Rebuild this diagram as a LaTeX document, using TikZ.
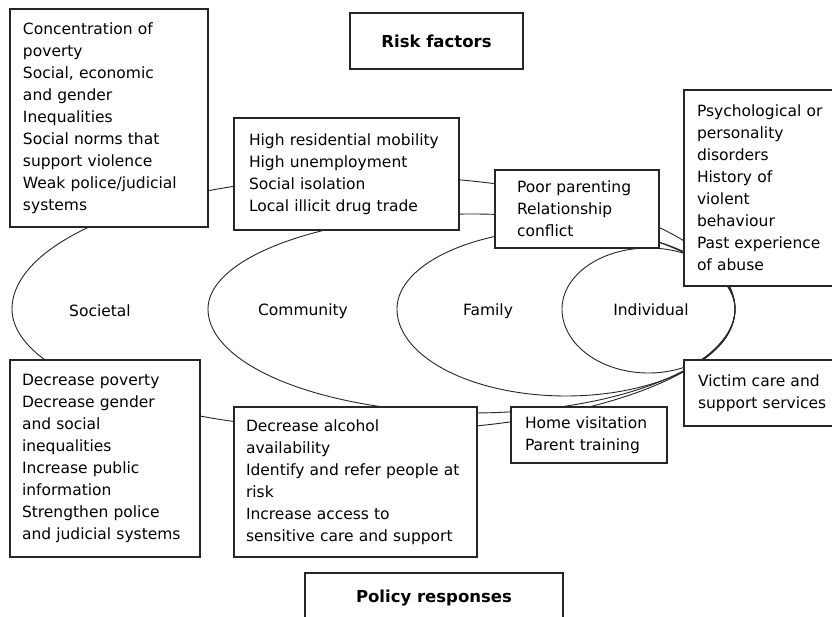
\documentclass[tikz,border=0pt]{standalone}
\usepackage{fontspec}
\setmainfont{DejaVu Sans}
\begin{document}
\begin{tikzpicture}[x=1pt,y=-1pt,
  ell/.style={draw=black!85,line width=0.9pt},
  rbox/.style={draw=black!85,line width=1.2pt,fill=white,rectangle,align=left,
     inner ysep=0pt,font=\fontsize{15.5}{22}\selectfont},
  tbox/.style={draw=black!85,line width=1.2pt,fill=white,rectangle,align=center,
     font=\fontsize{16.5}{22}\selectfont\bfseries},
  lbl/.style={font=\fontsize{15.5}{22}\selectfont}]
\useasboundingbox (0,0) rectangle (832,617);
\clip (0,0) rectangle (832,617);
\fill[white] (0,0) rectangle (832,617);
% nested ellipses (upper / lower halves)
\draw[ell] plot[domain=0:180,samples=121] ({373.5+361.5*cos(\x)},{309-133*sin(\x)});
\draw[ell] plot[domain=180:360,samples=121] ({373.5+361.5*cos(\x)},{309-122*sin(\x)});
\draw[ell] plot[domain=0:180,samples=121] ({471.5+263.5*cos(\x)},{309-95*sin(\x)});
\draw[ell] plot[domain=180:360,samples=121] ({471.5+263.5*cos(\x)},{309-104*sin(\x)});
\draw[ell] plot[domain=0:180,samples=121] ({566+169*cos(\x)},{309-80*sin(\x)});
\draw[ell] plot[domain=180:360,samples=121] ({566+169*cos(\x)},{309-87*sin(\x)});
\draw[ell] plot[domain=0:180,samples=121] ({648.5+86.5*cos(\x)},{309-61*sin(\x)});
\draw[ell] plot[domain=180:360,samples=121] ({648.5+86.5*cos(\x)},{309-64*sin(\x)});
% ring labels
\node[lbl] (societal) at (100,311) {Societal};
\node[lbl] (community) at (303,311) {Community};
\node[lbl] (family) at (488,311) {Family};
\node[lbl] (individual) at (651,310) {Individual};
% titles
\node[tbox,minimum width=173pt,minimum height=56pt] (risk) at (436.5,41) {Risk factors};
\node[tbox,minimum width=258pt,minimum height=50pt] (policy) at (434,598) {Policy responses};
% risk factor boxes
\node[rbox,minimum width=198pt,minimum height=218pt,inner xsep=13pt,text width=172pt] (rsoc) at (109,118)
 {Concentration of\\poverty\\Social, economic\\and gender\\Inequalities\\Social norms that\\support violence\\Weak police/judicial\\systems};
\node[rbox,minimum width=225pt,minimum height=112pt,inner xsep=15pt,text width=195pt] (rcom) at (346.5,174)
 {High residential mobility\\High unemployment\\Social isolation\\Local illicit drug trade};
\node[rbox,minimum width=164pt,minimum height=78pt,inner xsep=22pt,text width=120pt] (rfam) at (577,209)
 {Poor parenting\\Relationship\\conflict};
\node[rbox,minimum width=160pt,minimum height=196pt,inner xsep=13pt,text width=134pt] (rind) at (764,188)
 {Psychological or\\personality\\disorders\\History of\\violent\\behaviour\\Past experience\\of abuse};
% policy response boxes
\node[rbox,minimum width=190pt,minimum height=197pt,inner xsep=12pt,text width=166pt] (psoc) at (105,458.5)
 {Decrease poverty\\Decrease gender\\and social\\inequalities\\Increase public\\information\\Strengthen police\\and judicial systems};
\node[rbox,minimum width=243pt,minimum height=150pt,inner xsep=12pt,text width=219pt] (pcom) at (355.5,482)
 {Decrease alcohol\\availability\\Identify and refer people at\\risk\\Increase access to\\sensitive care and support};
\node[rbox,minimum width=156pt,minimum height=56pt,inner xsep=14pt,text width=128pt] (pfam) at (589,435)
 {Home visitation\\Parent training};
\node[rbox,minimum width=160pt,minimum height=66pt,inner xsep=14pt,text width=132pt] (pind) at (764,393)
 {Victim care and\\support services};
\end{tikzpicture}
\end{document}
